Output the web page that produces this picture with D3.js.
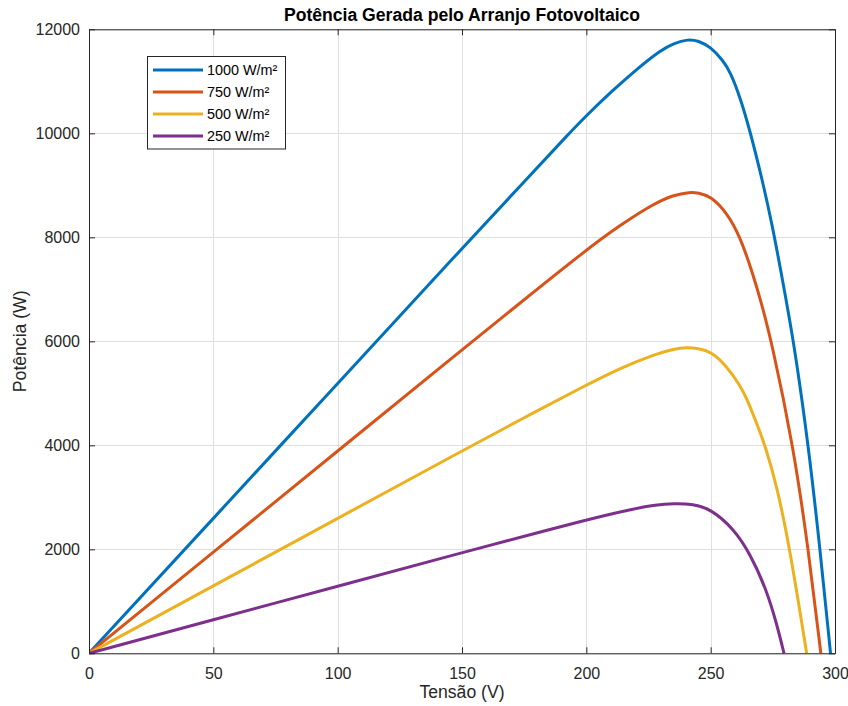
<!DOCTYPE html>
<html>
<head>
<meta charset="utf-8">
<script src="https://cdn.jsdelivr.net/npm/d3@7"></script>
<style>
  html, body { margin: 0; padding: 0; background: #fff; }
  svg { display: block; font-family: "Liberation Sans", Arial, Helvetica, sans-serif; }
</style>
</head>
<body>
<svg id="chart" width="848" height="706"></svg>
<script>
// ---- Data ----
const seriesNames = ["1000 W/m²", "750 W/m²", "500 W/m²", "250 W/m²"];
const seriesColors = ["#0072BD", "#D95319", "#EDB120", "#7E2F8E"];

const v1000 = [0, 50, 100, 150, 175, 192.7, 200, 210, 221.6, 230, 235, 241, 245, 250, 255, 258, 261.8, 265.8, 270, 274.5, 280.5, 284, 289.3, 294, 298.2];
const p1000 = [0, 2595, 5190, 7785, 9070, 9980, 10340, 10800, 11290, 11600, 11730, 11810, 11780, 11660, 11400, 11170, 10700, 10050, 9250, 8320, 6760, 5800, 4000, 2000, 0];

const v750 = [0, 50, 100, 150, 173.3, 200, 213.5, 226.9, 235, 241.7, 245, 250, 256.4, 261.8, 267.1, 270.5, 274.5, 283.2, 289.3, 294.3];
const p750 = [0, 1945, 3890, 5835, 6735, 7760, 8230, 8640, 8815, 8871, 8855, 8790, 8480, 8020, 7280, 6720, 5990, 4000, 2000, 0];

const v500 = [0, 50, 100, 150, 173.3, 200, 213.5, 226.9, 235, 240.3, 245, 250, 256.4, 261.8, 264.4, 269.8, 271.8, 276.5, 281.9, 288.6];
const p500 = [0, 1297, 2595, 3892, 4487, 5160, 5480, 5740, 5850, 5885, 5865, 5805, 5530, 5150, 4920, 4260, 4000, 3250, 2000, 0];

const v250 = [0, 50, 100, 150, 165.3, 200, 218.9, 228, 235, 243, 250, 259.1, 265.8, 272.5, 276.5, 279.5];
const p250 = [0, 645, 1290, 1935, 2127, 2570, 2780, 2855, 2880, 2870, 2775, 2404, 1923, 1217, 577, 0];

const xTicks = [0, 50, 100, 150, 200, 250, 300];
const yTicks = [0, 2000, 4000, 6000, 8000, 10000, 12000];

const titleText = "Potência Gerada pelo Arranjo Fotovoltaico";
const xLabelText = "Tensão (V)";
const yLabelText = "Potência (W)";

// ---- Layout ----
const svg = d3.select("#chart");
const L = 89, R = 835, T = 29.3, B = 653.3;
const x = d3.scaleLinear().domain([0, 300]).range([L, R]);
const y = d3.scaleLinear().domain([0, 12000]).range([B, T]);
const axisColor = "#262626";

// grid
const grid = svg.append("g");
grid.selectAll("line.gx").data(xTicks).join("line")
  .attr("x1", d => Math.round(x(d)) + 0.5).attr("x2", d => Math.round(x(d)) + 0.5)
  .attr("y1", T).attr("y2", B)
  .attr("stroke", "#dfdfdf").attr("stroke-width", 1);
grid.selectAll("line.gy").data(yTicks).join("line")
  .attr("y1", d => Math.round(y(d)) + 0.5).attr("y2", d => Math.round(y(d)) + 0.5)
  .attr("x1", L).attr("x2", R)
  .attr("stroke", "#dfdfdf").attr("stroke-width", 1);

// curves
svg.append("clipPath").attr("id", "clip").append("rect")
  .attr("x", L).attr("y", T - 2).attr("width", R - L + 1).attr("height", B - T + 3);

const allSeries = [
  d3.zip(v1000, p1000),
  d3.zip(v750, p750),
  d3.zip(v500, p500),
  d3.zip(v250, p250)
];
const line = d3.line().x(d => x(d[0])).y(d => y(d[1])).curve(d3.curveBasis);
svg.append("g").attr("clip-path", "url(#clip)")
  .selectAll("path").data(allSeries).join("path")
  .attr("d", line)
  .attr("fill", "none")
  .attr("stroke", (d, i) => seriesColors[i])
  .attr("stroke-width", 3)
  .attr("stroke-linejoin", "round");

// axes (MATLAB style: ticks inward, box)
const tickLen = 6;
const fmt = d3.format("d");
const xAxisB = d3.axisBottom(x).tickValues(xTicks).tickFormat(fmt).tickSizeInner(-tickLen).tickSizeOuter(0).tickPadding(14);
const xAxisT = d3.axisTop(x).tickValues(xTicks).tickSizeInner(-tickLen).tickSizeOuter(0).tickFormat("");
const yAxisL = d3.axisLeft(y).tickValues(yTicks).tickFormat(fmt).tickSizeInner(-tickLen).tickSizeOuter(0).tickPadding(9);
const yAxisR = d3.axisRight(y).tickValues(yTicks).tickSizeInner(-tickLen).tickSizeOuter(0).tickFormat("");

function styleAxis(g) {
  g.select(".domain").attr("stroke", axisColor).attr("stroke-width", 1);
  g.selectAll(".tick line").attr("stroke", axisColor).attr("stroke-width", 1);
  g.selectAll(".tick text").attr("fill", axisColor).attr("font-size", 16)
    .attr("font-family", "'Liberation Sans', Arial, Helvetica, sans-serif");
}
svg.append("g").attr("transform", `translate(0,${B})`).call(xAxisB).call(styleAxis);
svg.append("g").attr("transform", `translate(0,${T})`).call(xAxisT).call(styleAxis);
svg.append("g").attr("transform", `translate(${L},0)`).call(yAxisL).call(styleAxis);
svg.append("g").attr("transform", `translate(${R},0)`).call(yAxisR).call(styleAxis);

// title & labels
svg.append("text").attr("x", (L + R) / 2).attr("y", 21)
  .attr("text-anchor", "middle").attr("font-weight", "bold").attr("font-size", 17.6)
  .attr("fill", "#000").text(titleText);
svg.append("text").attr("x", (L + R) / 2).attr("y", 698)
  .attr("text-anchor", "middle").attr("font-size", 17.6)
  .attr("fill", axisColor).text(xLabelText);
svg.append("text").attr("transform", `translate(26,${(T + B) / 2}) rotate(-90)`)
  .attr("text-anchor", "middle").attr("font-size", 17.6)
  .attr("fill", axisColor).text(yLabelText);

// legend
const lg = svg.append("g");
lg.append("rect").attr("x", 147.5).attr("y", 56.5).attr("width", 138).attr("height", 92.5)
  .attr("fill", "#fff").attr("stroke", axisColor).attr("stroke-width", 1);
const rowsY = [70, 92, 114, 136];
seriesNames.forEach((name, i) => {
  lg.append("line").attr("x1", 153).attr("x2", 203).attr("y1", rowsY[i]).attr("y2", rowsY[i])
    .attr("stroke", seriesColors[i]).attr("stroke-width", 3);
  lg.append("text").attr("x", 207).attr("y", rowsY[i]).attr("dy", "0.35em")
    .attr("font-size", 14.4).attr("fill", "#000").text(name);
});
</script>
</body>
</html>
